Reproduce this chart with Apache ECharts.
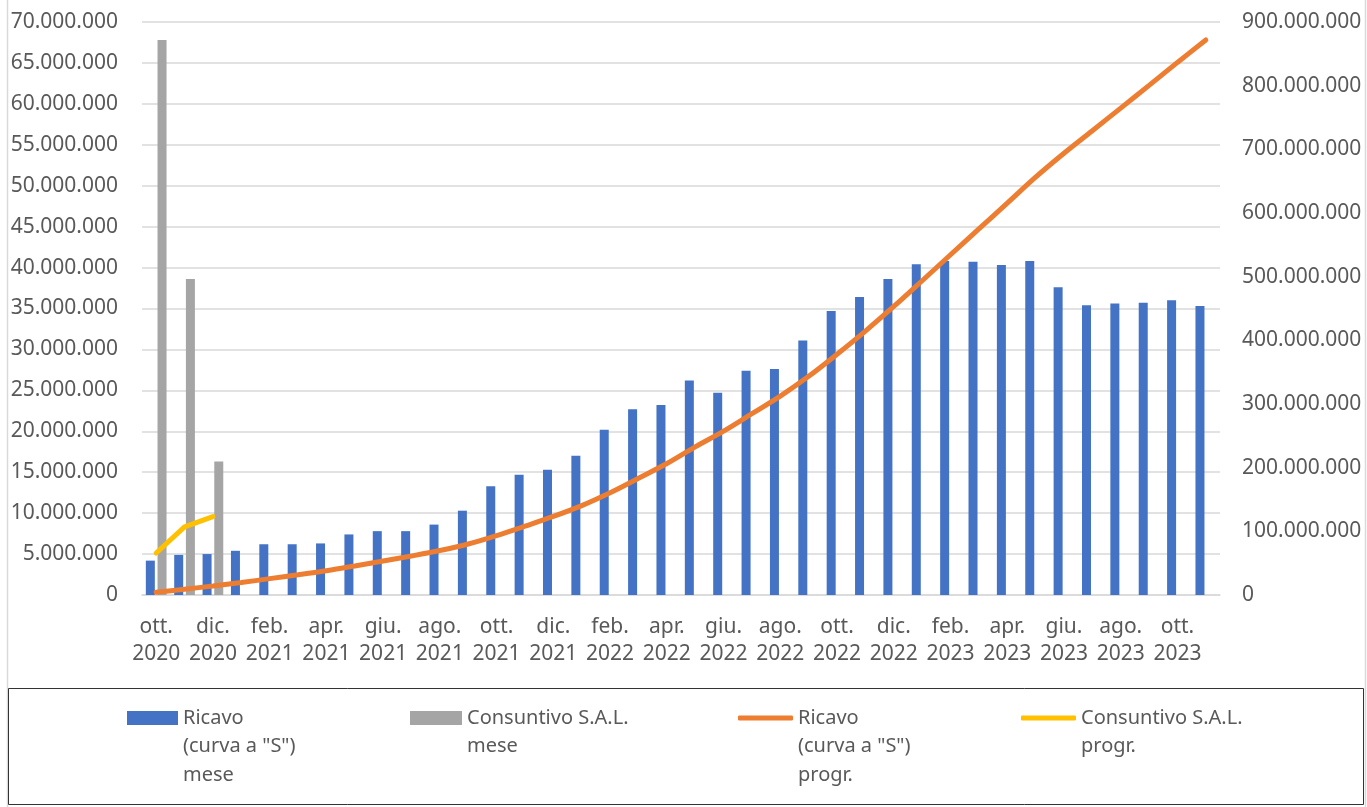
<!DOCTYPE html>
<html>
<head>
<meta charset="utf-8">
<script src="https://cdn.jsdelivr.net/npm/echarts@6/dist/echarts.min.js"></script>
<style>
html,body{margin:0;padding:0;background:#fff;}
#chart{width:1367px;height:807px;}
</style>
</head>
<body>
<div id="chart"></div>
<script>
// Categories (months)
const categories = [
  "ott. 2020","nov. 2020","dic. 2020",
  "gen. 2021","feb. 2021","mar. 2021","apr. 2021","mag. 2021","giu. 2021","lug. 2021","ago. 2021","set. 2021","ott. 2021","nov. 2021","dic. 2021",
  "gen. 2022","feb. 2022","mar. 2022","apr. 2022","mag. 2022","giu. 2022","lug. 2022","ago. 2022","set. 2022","ott. 2022","nov. 2022","dic. 2022",
  "gen. 2023","feb. 2023","mar. 2023","apr. 2023","mag. 2023","giu. 2023","lug. 2023","ago. 2023","set. 2023","ott. 2023","nov. 2023"
];
// Values in millions of euro
const ricavoMese = [4.2, 4.9, 5.0, 5.4, 6.2, 6.2, 6.3, 7.4, 7.8, 7.8, 8.6, 10.3, 13.3, 14.7, 15.3, 17.0, 20.2, 22.7, 23.2, 26.2, 24.7, 27.4, 27.6, 31.1, 34.7, 36.4, 38.6, 40.4, 40.8, 40.7, 40.3, 40.8, 37.6, 35.4, 35.6, 35.7, 36.0, 35.3];
const consuntivoMese = [67.8, 38.6, 16.3];
const ricavoProgr = [4.2, 9.1, 14.1, 19.5, 25.7, 31.9, 38.2, 45.6, 53.4, 61.2, 69.8, 80.1, 93.4, 108.1, 123.4, 140.4, 160.6, 183.3, 206.5, 232.7, 257.4, 284.8, 312.4, 343.5, 378.2, 414.6, 453.2, 493.6, 534.4, 575.1, 615.4, 656.2, 693.8, 729.2, 764.8, 800.5, 836.5, 871.8];
const consuntivoProgr = [66, 107, 123];
// Axis ranges (millions)
const leftAxis = {min: 0, max: 70, interval: 5};
const rightAxis = {min: 0, max: 900, interval: 100};
const seriesNames = ['Ricavo\n(curva a "S")\nmese', 'Consuntivo S.A.L.\nmese', 'Ricavo\n(curva a "S")\nprogr.', 'Consuntivo S.A.L.\nprogr.'];

const FONT = 'Noto Sans';
const TXT = '#595959';
function fmt(v) {
  const n = Math.round(v * 1000000);
  return String(n).replace(/\B(?=(\d{3})+(?!\d))/g, '.');
}
const LH = 28.5;
function legendFor(name, left, iconCenter, icon, w, h) {
  const lines = name.split('\n').length;
  const boxH = (2 * lines - 1) * LH;
  return {
    data: [{name: name, icon: icon}],
    left: left,
    top: iconCenter - boxH / 2,
    padding: 0,
    itemWidth: w,
    itemHeight: h,
    formatter: n => '\n'.repeat(lines - 1) + n,
    textStyle: {fontFamily: FONT, fontSize: 20, color: TXT, lineHeight: LH}
  };
}

const chart = echarts.init(document.getElementById('chart'), null, {renderer: 'canvas'});
chart.setOption({
  animation: false,
  backgroundColor: '#fff',
  grid: {left: 142, right: 147, top: 22, bottom: 212, containLabel: false},
  legend: [
    legendFor(seriesNames[0], 127, 718, 'rect', 51, 14),
    legendFor(seriesNames[1], 410, 718, 'rect', 52, 14),
    legendFor(seriesNames[2], 738, 718, 'roundRect', 55, 5),
    legendFor(seriesNames[3], 1021, 718, 'roundRect', 55, 5)
  ],
  xAxis: {
    type: 'category',
    data: categories,
    axisLine: {show: true, lineStyle: {color: '#d9d9d9', width: 1.5}},
    axisTick: {show: false},
    axisLabel: {
      interval: 1,
      margin: 19,
      fontFamily: FONT, fontSize: 21, color: TXT, lineHeight: 27,
      formatter: v => v.replace(' ', '\n')
    }
  },
  yAxis: [
    {
      type: 'value', min: leftAxis.min, max: leftAxis.max, interval: leftAxis.interval,
      axisLine: {show: false}, axisTick: {show: false},
      splitLine: {show: true, lineStyle: {color: '#d9d9d9', width: 1.5}},
      axisLabel: {margin: 24, fontFamily: FONT, fontSize: 21, color: TXT, formatter: fmt}
    },
    {
      type: 'value', min: rightAxis.min, max: rightAxis.max, interval: rightAxis.interval,
      axisLine: {show: false}, axisTick: {show: false},
      splitLine: {show: false},
      axisLabel: {margin: 22, fontFamily: FONT, fontSize: 21, color: TXT, formatter: fmt}
    }
  ],
  series: [
    {name: seriesNames[0], type: 'bar', data: ricavoMese, barWidth: 9, barGap: '30%',
     itemStyle: {color: '#4472C4'}},
    {name: seriesNames[1], type: 'bar', data: consuntivoMese, barWidth: 9,
     itemStyle: {color: '#A5A5A5'}},
    {name: seriesNames[2], type: 'line', yAxisIndex: 1, data: ricavoProgr, smooth: 0.35,
     showSymbol: false, symbol: 'none', lineStyle: {color: '#ED7D31', width: 5, cap: 'round'},
     itemStyle: {color: '#ED7D31'}, z: 5},
    {name: seriesNames[3], type: 'line', yAxisIndex: 1, data: consuntivoProgr,
     showSymbol: false, symbol: 'none', lineStyle: {color: '#FFC000', width: 5, cap: 'round', join: 'round'},
     itemStyle: {color: '#FFC000'}, z: 5}
  ],
  graphic: [
    {type: 'line', shape: {x1: 7.5, y1: 0, x2: 7.5, y2: 807}, style: {stroke: '#d9d9d9', lineWidth: 1.5}, silent: true},
    {type: 'line', shape: {x1: 1365.5, y1: 0, x2: 1365.5, y2: 807}, style: {stroke: '#d9d9d9', lineWidth: 1.5}, silent: true},
    {type: 'rect', shape: {x: 8.5, y: 688.5, width: 1355, height: 116}, style: {fill: 'none', stroke: '#333', lineWidth: 1}, silent: true}
  ]
});
</script>
</body>
</html>
